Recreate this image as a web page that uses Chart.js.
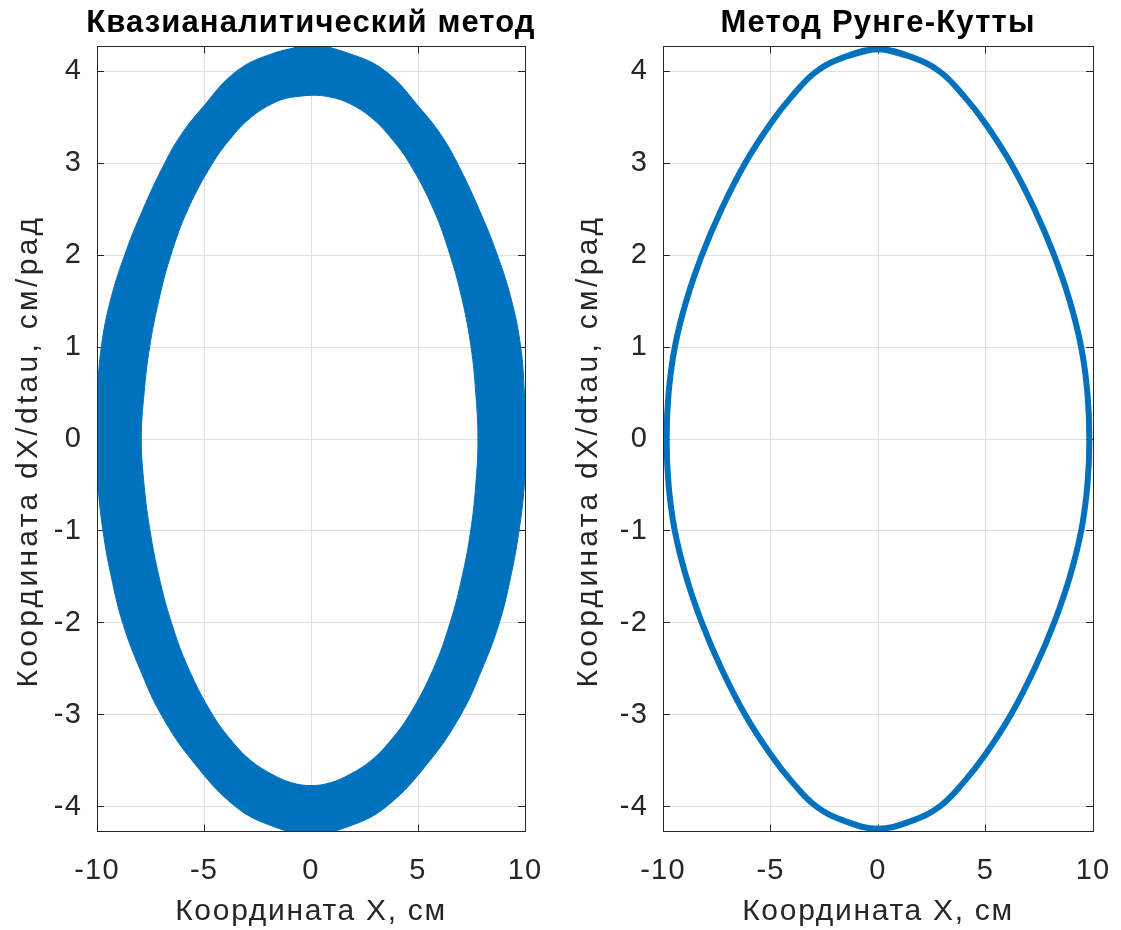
<!DOCTYPE html>
<html>
<head>
<meta charset="utf-8">
<title>Фазовые портреты</title>
<script src="https://cdn.jsdelivr.net/npm/chart.js@4.4.1/dist/chart.umd.min.js"></script>
<style>
  html, body { margin: 0; padding: 0; background: #ffffff; }
  #wrap { position: relative; width: 1121px; height: 930px; overflow: hidden; }
  canvas { position: absolute; top: 0; }
  #leftPanel { left: 0; }
  #rightPanel { left: 560px; }
</style>
</head>
<body>
<div id="wrap">
  <canvas id="leftPanel" width="560" height="930"></canvas>
  <canvas id="rightPanel" width="561" height="930"></canvas>
</div>
<script>
// ---- axis setup ----
const xRange = [-10, 10];
const yRange = [-4.27, 4.27];
const xTicks = [-10, -5, 0, 5, 10];
const yTicks = [-4, -3, -2, -1, 0, 1, 2, 3, 4];

const leftTitle = 'Квазианалитический метод';
const rightTitle = 'Метод Рунге-Кутты';
const xLabel = 'Координата X, см';
const yLabel = 'Координата dX/dtau, см/рад';

// ---- quasi-analytic solution: outer edge of the band (clockwise from the top) ----
const quasiOuterX = [0, 1.7, 3.49, 5.2, 6.1, 6.84, 7.85, 8.71, 9.38, 9.8, 9.97, 10.05,
  9.97, 9.72, 9.33, 8.8, 8.0, 7.0, 5.55, 3.52, 1.7, 0,
  -1.7, -3.52, -5.55, -7.0, -8.0, -8.8, -9.33, -9.72, -9.95, -10.0,
  -9.97, -9.8, -9.38, -8.71, -7.85, -6.84, -6.1, -5.2, -3.49, -1.7, 0];
const quasiOuterY = [4.28, 4.2, 4.0, 3.57, 3.3, 3.0, 2.5, 2.0, 1.5, 1.0, 0.5, 0,
  -0.5, -1.0, -1.5, -2.0, -2.5, -3.0, -3.5, -4.0, -4.22, -4.3,
  -4.22, -4.0, -3.5, -3.0, -2.5, -2.0, -1.5, -1.0, -0.5, 0,
  0.5, 1.0, 1.5, 2.0, 2.5, 3.0, 3.3, 3.57, 4.0, 4.2, 4.28];

// ---- quasi-analytic solution: inner edge of the band (counter-clockwise from the top) ----
const quasiInnerX = [0, -0.9, -1.8, -2.8, -3.65, -4.6, -5.75, -6.55, -7.12, -7.54, -7.8, -7.93,
  -7.8, -7.52, -7.1, -6.52, -5.72, -4.6, -3.65, -2.8, -1.8, -0.9, 0,
  0.9, 1.8, 2.8, 3.65, 4.6, 5.72, 6.5, 7.06, 7.46, 7.7, 7.8,
  7.7, 7.48, 7.08, 6.5, 5.72, 4.6, 3.65, 2.8, 1.8, 0.9, 0];
const quasiInnerY = [3.74, 3.72, 3.65, 3.5, 3.3, 3.0, 2.5, 2.0, 1.5, 1.0, 0.5, 0,
  -0.5, -1.0, -1.5, -2.0, -2.5, -3.0, -3.3, -3.5, -3.65, -3.74, -3.77,
  -3.74, -3.65, -3.5, -3.3, -3.0, -2.5, -2.0, -1.5, -1.0, -0.5, 0,
  0.5, 1.0, 1.5, 2.0, 2.5, 3.0, 3.3, 3.5, 3.65, 3.72, 3.74];

// ---- Runge-Kutta solution (closed orbit, clockwise from the top) ----
const rkX = [0, 1.5, 2.86, 4.0, 5.0, 6.18, 7.28, 8.19, 8.92, 9.45, 9.74, 9.83,
  9.74, 9.45, 8.92, 8.19, 7.28, 6.18, 5.0, 4.0, 2.86, 1.5, 0,
  -1.5, -2.86, -4.0, -5.0, -6.18, -7.28, -8.19, -8.92, -9.45, -9.74, -9.83,
  -9.74, -9.45, -8.92, -8.19, -7.28, -6.18, -5.0, -4.0, -2.86, -1.5, 0];
const rkY = [4.24, 4.16, 4.0, 3.73, 3.43, 3.0, 2.5, 2.0, 1.5, 1.0, 0.5, 0,
  -0.5, -1.0, -1.5, -2.0, -2.5, -3.0, -3.43, -3.73, -4.0, -4.16, -4.24,
  -4.16, -4.0, -3.73, -3.43, -3.0, -2.5, -2.0, -1.5, -1.0, -0.5, 0,
  0.5, 1.0, 1.5, 2.0, 2.5, 3.0, 3.43, 3.73, 4.0, 4.16, 4.24];

// ---- styling ----
const FONT = "'Liberation Sans', Arial, Helvetica, sans-serif";
const AXIS_COLOR = '#262626';
const GRID_COLOR = '#dfdfdf';
const LINE_BLUE = '#0072bd';
const TICK_LEN = -7;   // negative: tick marks point into the plot box

Chart.defaults.font.family = FONT;
Chart.defaults.color = AXIS_COLOR;

function toPoints(xs, ys) {
  return xs.map((x, i) => ({ x: x, y: ys[i] }));
}

// closed orbit: repeat one neighbour at each end so the spline has a smooth seam
function closedOrbit(xs, ys) {
  const p = toPoints(xs, ys);
  return [p[p.length - 2]].concat(p, [p[1]]);
}

// band = outer loop + inner loop in opposite directions, filled as one shape
function bandPoints() {
  const outer = toPoints(quasiOuterX, quasiOuterY);
  const inner = toPoints(quasiInnerX, quasiInnerY);
  return [outer[outer.length - 2]].concat(
    outer, [outer[outer.length - 1], inner[0]], inner, [inner[1]]);
}

function tickSetter(values) {
  return (scale) => { scale.ticks = values.map(v => ({ value: v })); };
}

// custom tracking (and optional shift) for an axis title
function trackedTitle(scale, spacing, dy) {
  if (scale.$tracked) return;
  scale.$tracked = true;
  const base = scale.drawTitle;
  scale.drawTitle = function () {
    const ctx = this.ctx;
    ctx.save();
    ctx.letterSpacing = spacing;
    ctx.translate(0, dy || 0);
    base.call(this);
    ctx.restore();
  };
}

// tracking for tick labels and the chart title
const textTracking = {
  id: 'textTracking',
  defaults: { base: '1.2px', title: '1.2px' },
  beforeDraw(chart, args, opts) {
    chart.ctx.letterSpacing = opts.base;
    const tb = chart.titleBlock;
    if (tb && !tb.$tracked) {
      tb.$tracked = true;
      const spacing = opts.title;
      const draw = tb.draw;
      tb.draw = function (area) {
        const ctx = this.ctx;
        const prev = ctx.letterSpacing;
        const l = this.left, r = this.right;
        // keep the centre, but allow the tracked text to run past the plot width
        this.left = l - 60;
        this.right = r + 60;
        ctx.letterSpacing = spacing;
        draw.call(this, area);
        ctx.letterSpacing = prev;
        this.left = l;
        this.right = r;
      };
    }
  },
  afterDraw(chart) { chart.ctx.letterSpacing = '0px'; }
};

function frameAxis(position, range, values) {
  const horizontal = position === 'top';
  return {
    type: 'linear',
    position: position,
    min: range[0],
    max: range[1],
    afterBuildTicks: tickSetter(values),
    afterFit: (s) => {
      if (horizontal) s.height = 0; else s.width = 0;
      s.paddingLeft = s.paddingRight = s.paddingTop = s.paddingBottom = 0;
    },
    grid: { drawOnChartArea: false, drawTicks: true, tickLength: TICK_LEN, tickColor: AXIS_COLOR, tickWidth: 1 },
    border: { display: true, color: AXIS_COLOR, width: 1, z: 1 },
    ticks: { display: false }
  };
}

function buildScales(yAxisWidth) {
  return {
    x: {
      type: 'linear',
      position: 'bottom',
      min: xRange[0],
      max: xRange[1],
      afterBuildTicks: tickSetter(xTicks),
      afterFit: (s) => {
        s.height = 98.5;
        s.paddingLeft = s.paddingRight = 0;
        trackedTitle(s, '1.7px', 0);
      },
      grid: { color: GRID_COLOR, lineWidth: 1, drawTicks: true, tickLength: TICK_LEN, tickColor: AXIS_COLOR, tickWidth: 1 },
      border: { display: true, color: AXIS_COLOR, width: 1, z: 1 },
      ticks: { color: AXIS_COLOR, font: { size: 29 }, padding: 29, maxRotation: 0, autoSkip: false,
               callback: (v) => String(v) },
      title: { display: true, text: xLabel, color: AXIS_COLOR, font: { size: 30 }, padding: { top: 0, bottom: 0.5 } }
    },
    y: {
      type: 'linear',
      position: 'left',
      min: yRange[0],
      max: yRange[1],
      afterBuildTicks: tickSetter(yTicks),
      afterFit: (s) => {
        s.width = yAxisWidth;
        s.paddingTop = s.paddingBottom = 0;
        trackedTitle(s, '3.3px', 12);
      },
      grid: { color: GRID_COLOR, lineWidth: 1, drawTicks: true, tickLength: TICK_LEN, tickColor: AXIS_COLOR, tickWidth: 1 },
      border: { display: true, color: AXIS_COLOR, width: 1, z: 1 },
      ticks: { color: AXIS_COLOR, font: { size: 29 }, padding: 22, autoSkip: false,
               callback: (v) => String(v) },
      title: { display: true, text: yLabel, color: AXIS_COLOR, font: { size: 30 }, padding: { top: 11, bottom: 0 } }
    },
    xTop: frameAxis('top', xRange, xTicks),
    yRight: frameAxis('right', yRange, yTicks)
  };
}

function buildOptions(title, titleTracking, yAxisWidth, padRight) {
  return {
    responsive: false,
    animation: false,
    devicePixelRatio: 1,
    layout: { padding: { left: 0, right: padRight, top: 0, bottom: 0 } },
    plugins: {
      legend: { display: false },
      tooltip: { enabled: false },
      textTracking: { base: '1.2px', title: titleTracking },
      title: {
        display: true,
        fullSize: false,
        text: title,
        color: '#000000',
        font: { size: 31, weight: 'bold' },
        padding: { top: 4.5, bottom: 4.8 }
      }
    },
    scales: buildScales(yAxisWidth)
  };
}

// left panel: thick band of overlapping quasi-analytic orbits
new Chart(document.getElementById('leftPanel'), {
  type: 'scatter',
  data: {
    datasets: [{
      data: bandPoints(),
      showLine: true,
      fill: 'shape',
      backgroundColor: LINE_BLUE,
      borderColor: LINE_BLUE,
      borderWidth: 1,
      pointRadius: 0,
      tension: 0.4
    }]
  },
  options: buildOptions(leftTitle, '1.1px', 97, 35),
  plugins: [textTracking]
});

// right panel: single Runge-Kutta orbit
new Chart(document.getElementById('rightPanel'), {
  type: 'scatter',
  data: {
    datasets: [{
      data: closedOrbit(rkX, rkY),
      showLine: true,
      fill: false,
      borderColor: LINE_BLUE,
      borderWidth: 6,
      pointRadius: 0,
      tension: 0.4
    }]
  },
  options: buildOptions(rightTitle, '1.2px', 103, 28),
  plugins: [textTracking]
});
</script>
</body>
</html>
